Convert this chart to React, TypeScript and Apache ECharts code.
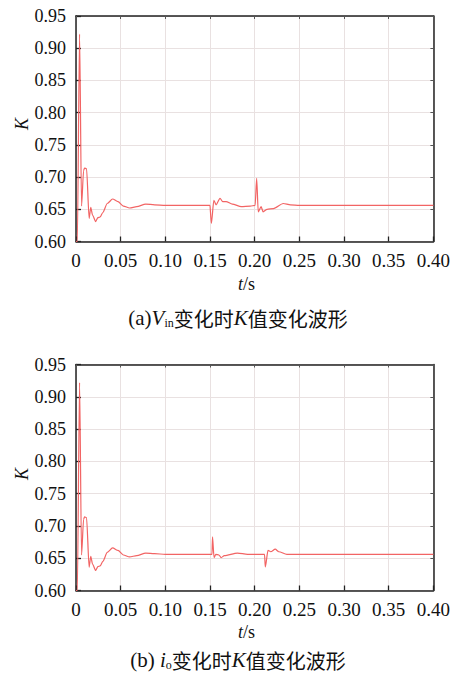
import React, { useEffect, useRef } from "react";
import * as echarts from "echarts";

const timeA = [0, 0.0015, 0.004, 0.0062, 0.0085, 0.0095, 0.0118, 0.0147, 0.0165, 0.0185, 0.022, 0.0245, 0.027, 0.03, 0.035, 0.041, 0.047, 0.053, 0.06, 0.068, 0.078, 0.088, 0.1, 0.15,
  0.1505, 0.1515, 0.1543, 0.1568, 0.1612, 0.1642, 0.168, 0.175, 0.185, 0.195, 0.2005, 0.2022, 0.204, 0.2072, 0.2094, 0.2138, 0.221, 0.232, 0.24, 0.25, 0.27, 0.3, 0.4];
const valueA = [0.6, 0.6, 0.922, 0.655, 0.71, 0.714, 0.713, 0.636, 0.653, 0.641, 0.631, 0.637, 0.638, 0.645, 0.659, 0.666, 0.662, 0.655, 0.652, 0.654, 0.658, 0.657, 0.656, 0.656,
  0.656, 0.628, 0.664, 0.657, 0.667, 0.662, 0.662, 0.658, 0.654, 0.655, 0.656, 0.698, 0.646, 0.654, 0.646, 0.65, 0.651, 0.659, 0.657, 0.656, 0.656, 0.656, 0.656];

const timeB = [0, 0.0015, 0.004, 0.0062, 0.0085, 0.0095, 0.0118, 0.0147, 0.0165, 0.0185, 0.022, 0.0245, 0.027, 0.03, 0.035, 0.041, 0.047, 0.053, 0.06, 0.068, 0.078, 0.088, 0.1, 0.15,
  0.1522, 0.1528, 0.1545, 0.1565, 0.16, 0.1624, 0.166, 0.1807, 0.192, 0.211, 0.2119, 0.2149, 0.218, 0.223, 0.227, 0.236, 0.27, 0.3, 0.4];
const valueB = [0.6, 0.6, 0.922, 0.655, 0.71, 0.714, 0.713, 0.636, 0.653, 0.641, 0.631, 0.637, 0.638, 0.645, 0.659, 0.666, 0.662, 0.655, 0.652, 0.654, 0.658, 0.657, 0.656, 0.656,
  0.656, 0.683, 0.651, 0.656, 0.655, 0.651, 0.654, 0.658, 0.656, 0.656, 0.6365, 0.662, 0.66, 0.664, 0.66, 0.656, 0.656, 0.656, 0.656];

const xMin = 0, xMax = 0.4, xStep = 0.05;
const yMin = 0.6, yMax = 0.95, yStep = 0.05;

const SERIF = "Liberation Serif";

export default function App() {
  const ref = useRef<HTMLDivElement>(null);
  useEffect(() => {
    const chart = echarts.init(ref.current!, null, { renderer: "svg" });
    const grids = [
      { left: 76, top: 16, width: 363, height: 225.5 },
      { left: 76, top: 364.5, width: 363, height: 226 },
    ];
    const axisLine = { show: true, onZero: false, lineStyle: { color: "#222", width: 1.5 } };
    const splitLine = { show: true, lineStyle: { color: "#e9e1e1", width: 1 } };
    const xAxes: any[] = [];
    const yAxes: any[] = [];
    [0, 1].forEach((g) => {
      xAxes.push({
        type: "value", gridIndex: g, min: xMin, max: xMax, interval: xStep, position: "bottom",
        axisLine, axisTick: { show: true, inside: true, length: 5, lineStyle: { color: "#222", width: 1.3 } },
        splitLine,
        axisLabel: {
          color: "#111", fontFamily: SERIF, fontSize: 19, margin: 9,
          formatter: (v: number) => (v === 0 ? "0" : v.toFixed(2)),
        },
      });
      xAxes.push({
        type: "value", gridIndex: g, min: xMin, max: xMax, interval: xStep, position: "top",
        axisLine, axisTick: { show: true, inside: true, length: 3, lineStyle: { color: "#555" } },
        splitLine: { show: false }, axisLabel: { show: false },
      });
      yAxes.push({
        type: "value", gridIndex: g, min: yMin, max: yMax, interval: yStep, position: "left",
        axisLine, axisTick: { show: true, inside: true, length: 5, lineStyle: { color: "#222", width: 1.3 } },
        splitLine,
        axisLabel: {
          color: "#111", fontFamily: SERIF, fontSize: 18, margin: 10, showMinLabel: true, showMaxLabel: true,
          formatter: (v: number) => v.toFixed(2),
        },
      });
      yAxes.push({
        type: "value", gridIndex: g, min: yMin, max: yMax, interval: yStep, position: "right",
        axisLine, axisTick: { show: true, inside: true, length: 3, lineStyle: { color: "#555" } },
        splitLine: { show: false }, axisLabel: { show: false },
      });
    });
    const mk = (ts: number[], vs: number[]) => ts.map((t, i) => [t, vs[i]]);
    const lineStyle = { color: "#f26464", width: 1.2 };
    const axisName = (y: number) => ({
      type: "text", x: 22, y, rotation: Math.PI / 2,
      style: {
        text: "K", font: `italic 18px ${SERIF}`, fill: "#111",
        textAlign: "center", textVerticalAlign: "middle",
      },
    });
    const tsLabel = (y: number) => ({
      type: "group",
      children: [
        { type: "text", x: 243, y, style: { text: "t", font: `italic 18px ${SERIF}`, fill: "#111", textAlign: "right", textVerticalAlign: "middle" } },
        { type: "text", x: 243, y, style: { text: "/s", font: `18px ${SERIF}`, fill: "#111", textAlign: "left", textVerticalAlign: "middle" } },
      ],
    });
    const capRich = {
      n: { fontFamily: SERIF, fontSize: 21, fill: "#111" },
      c: { fontFamily: "Noto Sans CJK SC", fontSize: 20, fill: "#111" },
      i: { fontFamily: SERIF, fontStyle: "italic", fontSize: 21, fill: "#111" },
      s: { fontFamily: SERIF, fontSize: 12, fill: "#111", verticalAlign: "bottom", padding: [10, 0, 0, 0] },
    };
    chart.setOption({
      animation: false,
      backgroundColor: "#fff",
      textStyle: { fontFamily: SERIF },
      grid: grids,
      xAxis: xAxes,
      yAxis: yAxes,
      series: [
        { type: "line", xAxisIndex: 0, yAxisIndex: 0, data: mk(timeA, valueA), showSymbol: false, smooth: 0.25, smoothMonotone: "x", lineStyle },
        { type: "line", xAxisIndex: 2, yAxisIndex: 2, data: mk(timeB, valueB), showSymbol: false, smooth: 0.25, smoothMonotone: "x", lineStyle },
      ],
      graphic: [
        axisName(124),
        axisName(474),
        tsLabel(284),
        tsLabel(632),
        {
          type: "text", x: 238, y: 318,
          style: { text: "{n|(a)}{i|V}{s|in}{c|变化时}{i|K}{c|值变化波形}", textAlign: "center", textVerticalAlign: "middle", rich: capRich },
        },
        {
          type: "text", x: 238, y: 660,
          style: { text: "{n|(b) }{i|i}{s|o}{c|变化时}{i|K}{c|值变化波形}", textAlign: "center", textVerticalAlign: "middle", rich: capRich },
        },
      ],
    });
    return () => chart.dispose();
  }, []);
  return <div ref={ref} style={{ position: "fixed", left: 0, top: 0, width: 453, height: 676, background: "#fff" }} />;
}
